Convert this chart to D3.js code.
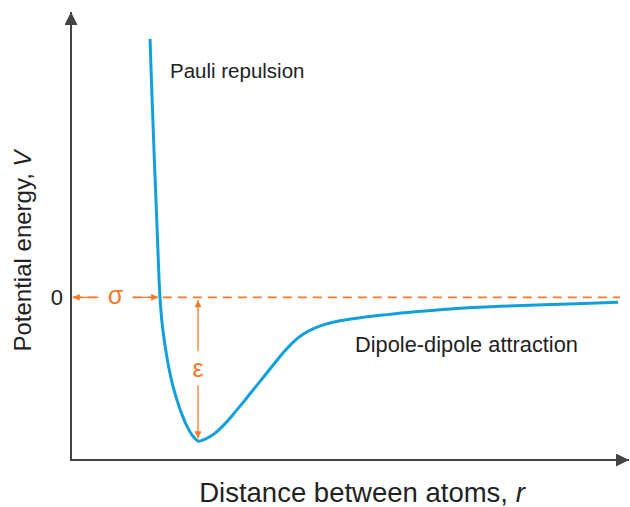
<!DOCTYPE html>
<html>
<head>
<meta charset="utf-8">
<script src="https://cdn.jsdelivr.net/npm/d3@7"></script>
<style>
  body { margin: 0; background: #fff; }
  svg { display: block; font-family: "Liberation Sans", Arial, sans-serif; }
</style>
</head>
<body>
<div id="container"></div>
<script>
// curve: distance r (sigma = 1) and potential V (epsilon = 1)
var rValues = [0.888, 0.912, 0.937, 0.962, 0.982, 1.0, 1.025, 1.056, 1.096, 1.14, 1.191, 1.247,
  1.303, 1.36, 1.427, 1.494, 1.573, 1.652, 1.742, 1.843, 1.955, 2.067, 2.18, 2.292, 2.404,
  2.506, 2.607, 2.719, 2.854, 3.022, 3.247, 3.528, 3.865, 4.258, 4.82, 5.494, 6.146];
var vValues = [1.799, 1.368, 0.951, 0.563, 0.243, 0, -0.188, -0.333, -0.479, -0.604, -0.715, -0.816,
  -0.896, -0.958, -1.0, -0.99, -0.965, -0.927, -0.872, -0.799, -0.715, -0.628, -0.542, -0.455, -0.372,
  -0.306, -0.257, -0.219, -0.188, -0.163, -0.142, -0.122, -0.101, -0.081, -0.0625, -0.0486, -0.0347];

var sigma = 1.0;
var rMin = 1.427;
var epsilon = 1.0;
var zeroLineEnd = 6.17;

var labels = {
  x: "Distance between atoms, ",
  xVar: "r",
  y: "Potential energy, ",
  yVar: "V",
  zero: "0",
  repulsion: "Pauli repulsion",
  attraction: "Dipole-dipole attraction"
};

var width = 630, height = 507;
var blue = "#12a0dc", orange = "#f47a2a", axisColor = "#444";

var svg = d3.select('#container').append('svg')
  .attr('width', width).attr('height', height);

var x = d3.scaleLinear().domain([0, 6.27]).range([71, 629]);
var y = d3.scaleLinear().domain([-1.132, 1.986]).range([460, 12]);

var defs = svg.append('defs');
function marker(id, color, w, h) {
  defs.append('marker')
    .attr('id', id)
    .attr('viewBox', '0 0 10 10')
    .attr('refX', 10).attr('refY', 5)
    .attr('markerUnits', 'userSpaceOnUse')
    .attr('markerWidth', w).attr('markerHeight', h)
    .attr('orient', 'auto-start-reverse')
    .append('path')
    .attr('d', 'M0,0L10,5L0,10Z')
    .attr('fill', color);
}
marker('axisArrow', axisColor, 15, 13);
marker('smallArrow', orange, 8, 7);

// axes
svg.append('line')
  .attr('x1', x(0)).attr('y1', y.range()[0])
  .attr('x2', x(0)).attr('y2', y.range()[1])
  .attr('stroke', axisColor).attr('stroke-width', 2)
  .attr('marker-end', 'url(#axisArrow)');
svg.append('line')
  .attr('x1', x(0) - 1).attr('y1', y.range()[0])
  .attr('x2', x.range()[1]).attr('y2', y.range()[0])
  .attr('stroke', axisColor).attr('stroke-width', 2)
  .attr('marker-end', 'url(#axisArrow)');

// zero line
svg.append('line')
  .attr('x1', x(0.02)).attr('y1', y(0))
  .attr('x2', x(zeroLineEnd)).attr('y2', y(0))
  .attr('stroke', orange).attr('stroke-width', 1.6)
  .attr('stroke-dasharray', '9,6');

// sigma arrow
svg.append('line')
  .attr('x1', x(0.02)).attr('y1', y(0))
  .attr('x2', x(sigma - 0.02)).attr('y2', y(0))
  .attr('stroke', orange).attr('stroke-width', 1.3)
  .attr('marker-start', 'url(#smallArrow)')
  .attr('marker-end', 'url(#smallArrow)');
svg.append('rect')
  .attr('x', x(sigma / 2) - 17).attr('y', y(0) - 8)
  .attr('width', 34).attr('height', 16)
  .attr('fill', '#fff');
svg.append('text')
  .attr('x', x(0.5)).attr('y', y(0) + 7)
  .attr('text-anchor', 'middle')
  .attr('font-size', 25).attr('fill', orange)
  .text('σ');

// epsilon arrow
svg.append('line')
  .attr('x1', x(rMin)).attr('y1', y(-0.02))
  .attr('x2', x(rMin)).attr('y2', y(-epsilon + 0.02))
  .attr('stroke', orange).attr('stroke-width', 1.3)
  .attr('marker-start', 'url(#smallArrow)')
  .attr('marker-end', 'url(#smallArrow)');
svg.append('rect')
  .attr('x', x(rMin) - 10).attr('y', y(-0.5) - 18)
  .attr('width', 20).attr('height', 34)
  .attr('fill', '#fff');
svg.append('text')
  .attr('x', x(rMin)).attr('y', y(-0.5) + 8)
  .attr('text-anchor', 'middle')
  .attr('font-size', 25).attr('fill', orange)
  .text('ε');

// potential curve
var points = rValues.map(function(r, i) { return [r, vValues[i]]; });
var line = d3.line()
  .x(function(d) { return x(d[0]); })
  .y(function(d) { return y(d[1]); })
  .curve(d3.curveCatmullRom.alpha(0.5));
svg.append('path')
  .datum(points)
  .attr('d', line)
  .attr('fill', 'none')
  .attr('stroke', blue)
  .attr('stroke-width', 3);

// texts
svg.append('text')
  .attr('x', x(0) - 8).attr('y', y(0) + 8)
  .attr('text-anchor', 'end')
  .attr('font-size', 22).attr('fill', '#222')
  .text(labels.zero);

svg.append('text')
  .attr('x', 170).attr('y', 78)
  .attr('font-size', 20.5).attr('fill', '#222')
  .text(labels.repulsion);

svg.append('text')
  .attr('x', 355).attr('y', 352)
  .attr('font-size', 21.8).attr('fill', '#222')
  .text(labels.attraction);

var xl = svg.append('text')
  .attr('x', 362).attr('y', 502)
  .attr('text-anchor', 'middle')
  .attr('font-size', 27.5).attr('fill', '#222');
xl.append('tspan').text(labels.x);
xl.append('tspan').attr('font-style', 'italic').text(labels.xVar);

var yl = svg.append('text')
  .attr('transform', 'translate(31,251) rotate(-90)')
  .attr('text-anchor', 'middle')
  .attr('font-size', 24).attr('fill', '#222');
yl.append('tspan').text(labels.y);
yl.append('tspan').attr('font-style', 'italic').text(labels.yVar);
</script>
</body>
</html>
